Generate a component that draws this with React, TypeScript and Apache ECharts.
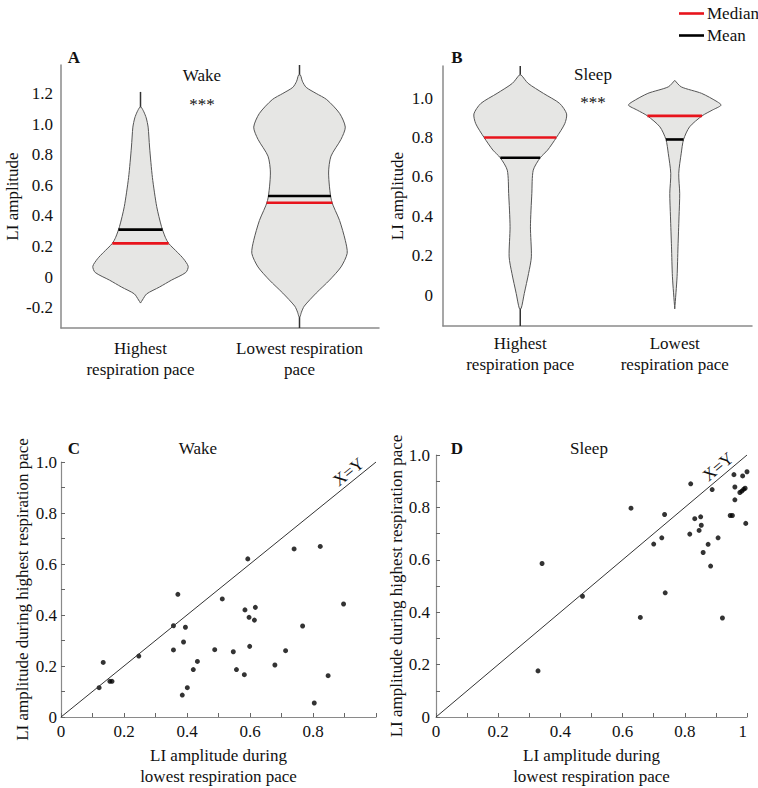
import React, { useEffect, useRef } from "react";
import * as echarts from "echarts";

// ---------- DATA ----------
const violinCategoriesWake = ["Highest\nrespiration pace", "Lowest respiration\npace"];
const violinCategoriesSleep = ["Highest\nrespiration pace", "Lowest\nrespiration pace"];

// violin outlines: [LI amplitude, relative density (0..1)], top to bottom
const wakeHighestProfile: [number, number][] = [
  [1.11, 0.015], [1.08, 0.07], [1.04, 0.12], [0.98, 0.16], [0.85, 0.19], [0.65, 0.25],
  [0.46, 0.34], [0.33, 0.44], [0.26, 0.52], [0.22, 0.59], [0.16, 0.78], [0.12, 0.9],
  [0.07, 1.0], [0.03, 0.95], [-0.02, 0.65], [-0.065, 0.4], [-0.11, 0.13], [-0.15, 0.04], [-0.17, 0],
];
const wakeLowestProfile: [number, number][] = [
  [1.32, 0.02], [1.28, 0.06], [1.24, 0.14], [1.2, 0.35], [1.16, 0.57], [1.07, 0.84],
  [0.98, 0.96], [0.9, 0.87], [0.79, 0.66], [0.68, 0.61], [0.5, 0.67], [0.37, 0.84],
  [0.24, 0.96], [0.155, 1.0], [0.066, 0.87], [-0.02, 0.63], [-0.105, 0.35], [-0.19, 0.1],
  [-0.23, 0.04], [-0.26, 0.01],
];
const sleepHighestProfile: [number, number][] = [
  [1.117, 0.02], [1.075, 0.17], [1.024, 0.5], [0.973, 0.85], [0.92, 1.0], [0.87, 0.96],
  [0.8, 0.78], [0.736, 0.59], [0.697, 0.43], [0.634, 0.28], [0.516, 0.25], [0.347, 0.22],
  [0.194, 0.24], [0.11, 0.18], [0.008, 0.087], [-0.068, 0.02],
];
const sleepLowestProfile: [number, number][] = [
  [1.09, 0], [1.057, 0.14], [1.024, 0.58], [0.981, 0.92], [0.964, 1.0], [0.939, 0.81],
  [0.91, 0.59], [0.854, 0.32], [0.79, 0.19], [0.72, 0.14], [0.618, 0.086], [0.516, 0.107],
  [0.397, 0.092], [0.245, 0.07], [0.093, 0.05], [-0.07, 0],
];
// whisker extents [min, max]
const wakeRanges: [number, number][] = [[-0.17, 1.21], [-0.333, 1.386]];
const sleepRanges: [number, number][] = [[-0.157, 1.163], [-0.07, 1.09]];
const wakeMedians = [0.22, 0.486];
const wakeMeans = [0.31, 0.53];
const sleepMedians = [0.8, 0.91];
const sleepMeans = [0.697, 0.79];

const violinTicksWake = [-0.2, 0, 0.2, 0.4, 0.6, 0.8, 1.0, 1.2];
const violinTicksSleep = [0, 0.2, 0.4, 0.6, 0.8, 1.0];
const scatterMinorTicks = [0, 0.1, 0.2, 0.3, 0.4, 0.5, 0.6, 0.7, 0.8, 0.9, 1.0];
const scatterLabelsC_x = [0, 0.2, 0.4, 0.6, 0.8];
const scatterLabels_y = [0, 0.2, 0.4, 0.6, 0.8, 1.0];
const scatterLabelsD_x = [0, 0.2, 0.4, 0.6, 0.8, 1.0];

// scatter: [lowest pace, highest pace]
const wakePoints: [number, number][] = [
  [0.121, 0.115], [0.134, 0.214], [0.155, 0.14], [0.162, 0.14], [0.247, 0.239],
  [0.357, 0.358], [0.357, 0.263], [0.371, 0.481], [0.385, 0.086], [0.389, 0.294],
  [0.395, 0.352], [0.401, 0.115], [0.42, 0.186], [0.433, 0.218], [0.488, 0.264],
  [0.512, 0.463], [0.547, 0.256], [0.557, 0.186], [0.582, 0.166], [0.584, 0.42],
  [0.593, 0.62], [0.597, 0.391], [0.599, 0.277], [0.614, 0.38], [0.617, 0.43],
  [0.679, 0.204], [0.713, 0.26], [0.74, 0.659], [0.767, 0.357], [0.804, 0.055],
  [0.823, 0.669], [0.848, 0.162], [0.897, 0.443],
];
const sleepPoints: [number, number][] = [
  [0.328, 0.176], [0.341, 0.586], [0.471, 0.461], [0.627, 0.797], [0.657, 0.38],
  [0.7, 0.66], [0.726, 0.684], [0.735, 0.773], [0.737, 0.474], [0.816, 0.698],
  [0.819, 0.89], [0.832, 0.757], [0.846, 0.712], [0.851, 0.764], [0.853, 0.732],
  [0.859, 0.628], [0.875, 0.659], [0.883, 0.576], [0.888, 0.868], [0.907, 0.684],
  [0.921, 0.378], [0.946, 0.769], [0.953, 0.769], [0.958, 0.925], [0.961, 0.878],
  [0.961, 0.829], [0.977, 0.857], [0.983, 0.862], [0.986, 0.92], [0.989, 0.869],
  [0.994, 0.873], [0.996, 0.739], [1.0, 0.936],
];
const identityLine: [number, number][] = [[0, 0], [1, 1]];
const identityLabelC: [number, number] = [0.913, 0.961];
const identityLabelD: [number, number] = [0.907, 0.955];

// ---------- HELPERS ----------
const FONT = "Liberation Serif, Times New Roman, serif";
const TEXT = "#111";
const AXIS = "#8a8a8a";
const VIOLIN_HALF = 0.3; // of category band

function densityAt(profile: [number, number][], v: number) {
  for (let i = 0; i < profile.length - 1; i++) {
    const [a, da] = profile[i];
    const [b, db] = profile[i + 1];
    if (v <= a && v >= b) {
      const t = (a - v) / (a - b);
      return da + (db - da) * t;
    }
  }
  return 0;
}

function violinSeries(profiles: [number, number][][], ranges: [number, number][], idx: number) {
  return {
    type: "custom",
    xAxisIndex: idx,
    yAxisIndex: idx,
    silent: true,
    clip: true,
    data: profiles.map((_, i) => [i, 0]),
    renderItem: (params: any, api: any) => {
      const i = params.dataIndex;
      const prof = profiles[i];
      const band = api.size([1, 0])[0];
      const cx = api.coord([i, 0])[0];
      const right = prof.map(([v, d]) => [cx + d * band * VIOLIN_HALF, api.coord([i, v])[1]]);
      const left = prof.slice().reverse().map(([v, d]) => [cx - d * band * VIOLIN_HALF, api.coord([i, v])[1]]);
      const [lo, hi] = ranges[i];
      const topY = api.coord([i, hi])[1];
      const botY = api.coord([i, lo])[1];
      return {
        type: "group",
        children: [
          {
            type: "line",
            shape: { x1: cx, y1: topY, x2: cx, y2: api.coord([i, prof[0][0]])[1] },
            style: { stroke: "#333", lineWidth: 1.5 },
          },
          {
            type: "line",
            shape: { x1: cx, y1: botY, x2: cx, y2: api.coord([i, prof[prof.length - 1][0]])[1] },
            style: { stroke: "#333", lineWidth: 1.5 },
          },
          {
            type: "polygon",
            shape: { points: right.concat(left), smooth: 0.25 },
            style: { fill: "#e6e6e4", stroke: "#555", lineWidth: 1 },
          },
        ],
      };
    },
  };
}

function statSeries(name: string, color: string, profiles: [number, number][][], values: number[], idx: number) {
  return {
    type: "custom",
    name,
    xAxisIndex: idx,
    yAxisIndex: idx,
    silent: true,
    itemStyle: { color },
    data: values.map((v, i) => [i, v]),
    renderItem: (params: any, api: any) => {
      const i = params.dataIndex;
      const v = values[i];
      const band = api.size([1, 0])[0];
      const [cx, y] = api.coord([i, v]);
      const hw = densityAt(profiles[i], v) * band * VIOLIN_HALF;
      return {
        type: "line",
        shape: { x1: cx - hw, y1: y, x2: cx + hw, y2: y },
        style: { stroke: color, lineWidth: 2.6 },
      };
    },
  };
}

const fmt = (v: number) => (Math.abs(v) < 1e-9 ? "0" : v.toFixed(1));
const fmtD = (v: number) => (Math.abs(v) < 1e-9 ? "0" : Math.abs(v - 1) < 1e-9 ? "1" : v.toFixed(1));

export default function App() {
  const ref = useRef<HTMLDivElement>(null);
  useEffect(() => {
    if (!ref.current) return;
    const chart = echarts.init(ref.current, undefined, { renderer: "svg" });
    const wakeProfiles = [wakeHighestProfile, wakeLowestProfile];
    const sleepProfiles = [sleepHighestProfile, sleepLowestProfile];
    const labelStyle = { fontFamily: FONT, fontSize: 17, color: TEXT };

    const catAxis = (gridIndex: number, data: string[], margin: number) => ({
      type: "category",
      gridIndex,
      data,
      boundaryGap: true,
      axisLine: { onZero: false, lineStyle: { color: AXIS, width: 1.5 } },
      axisTick: { show: false },
      axisLabel: { ...labelStyle, margin, lineHeight: 21, interval: 0 },
    });
    const violinY = (gridIndex: number, min: number, max: number, ticks: number[], margin: number, nameGap: number) => ({
      type: "value",
      gridIndex,
      min,
      max,
      splitLine: { show: false },
      axisLine: { show: true, onZero: false, lineStyle: { color: AXIS, width: 1.5 } },
      axisTick: { show: false },
      axisLabel: { ...labelStyle, margin, customValues: ticks, formatter: fmt, showMinLabel: true, showMaxLabel: true },
      name: "LI amplitude",
      nameLocation: "middle",
      nameRotate: 90,
      nameGap,
      nameTextStyle: labelStyle,
    });
    const scatterX = (gridIndex: number, labels: number[], formatter: any, alignMax: boolean) => ({
      type: "value",
      gridIndex,
      min: 0,
      max: 1,
      splitLine: { show: false },
      axisLine: { onZero: false, lineStyle: { color: AXIS, width: 1.2 } },
      axisTick: { show: true, inside: true, length: 4, customValues: scatterMinorTicks, lineStyle: { color: "#666" } },
      axisLabel: { ...labelStyle, margin: 6, customValues: labels, formatter, showMinLabel: true, showMaxLabel: true, alignMaxLabel: alignMax ? "right" : undefined },
      name: "LI amplitude during\nlowest respiration pace",
      nameLocation: "middle",
      nameGap: 28,
      nameTextStyle: { ...labelStyle, lineHeight: 21 },
    });
    const scatterY = (gridIndex: number, margin: number) => ({
      type: "value",
      gridIndex,
      min: 0,
      max: 1,
      splitLine: { show: false },
      axisLine: { show: true, onZero: false, lineStyle: { color: AXIS, width: 1.2 } },
      axisTick: { show: true, inside: true, length: 4, customValues: scatterMinorTicks, lineStyle: { color: "#666" } },
      axisLabel: { ...labelStyle, margin, customValues: scatterLabels_y, formatter: fmt, showMinLabel: true, showMaxLabel: true },
      name: "LI amplitude during highest respiration pace",
      nameLocation: "middle",
      nameRotate: 90,
      nameGap: 30,
      nameTextStyle: labelStyle,
    });

    const idLabel = (idx: number, pos: [number, number], rotDeg: number) => ({
      type: "custom",
      xAxisIndex: idx,
      yAxisIndex: idx,
      silent: true,
      clip: false,
      data: [pos],
      renderItem: (_params: any, api: any) => {
        const [x, y] = api.coord([api.value(0), api.value(1)]);
        return {
          type: "text",
          x,
          y,
          rotation: (rotDeg * Math.PI) / 180,
          style: { text: "X=Y", font: `17px ${FONT}`, fill: TEXT, align: "center", verticalAlign: "middle" },
        };
      },
    });

    const text = (x: number, y: number, t: string, bold = false) => ({
      type: "text",
      x,
      y,
      style: { text: t, font: `${bold ? "bold " : ""}17px ${FONT}`, fill: TEXT, align: "center", verticalAlign: "middle" },
    });

    chart.setOption({
      animation: false,
      backgroundColor: "#fff",
      textStyle: { fontFamily: FONT },
      legend: {
        orient: "vertical",
        left: 674,
        top: 0,
        data: ["Median", "Mean"],
        icon: "rect",
        itemWidth: 25,
        itemHeight: 2.6,
        itemGap: 5,
        textStyle: { ...labelStyle, padding: [0, 0, 0, -2] },
        selectedMode: false,
      },
      grid: [
        { left: 61, top: 65, width: 318, height: 263 },
        { left: 443, top: 66, width: 309, height: 260 },
        { left: 61, top: 462, width: 315, height: 255 },
        { left: 436, top: 455, width: 311, height: 262 },
      ],
      xAxis: [
        catAxis(0, violinCategoriesWake, 10),
        catAxis(1, violinCategoriesSleep, 7),
        scatterX(2, scatterLabelsC_x, fmt, false),
        scatterX(3, scatterLabelsD_x, fmtD, true),
      ],
      yAxis: [
        violinY(0, -0.333, 1.386, violinTicksWake, 8, 40),
        violinY(1, -0.157, 1.163, violinTicksSleep, 10, 37),
        scatterY(2, 4),
        scatterY(3, 6),
      ],
      series: [
        violinSeries(wakeProfiles, wakeRanges, 0),
        violinSeries(sleepProfiles, sleepRanges, 1),
        statSeries("Median", "#e8141c", wakeProfiles, wakeMedians, 0),
        statSeries("Mean", "#000", wakeProfiles, wakeMeans, 0),
        statSeries("Median", "#e8141c", sleepProfiles, sleepMedians, 1),
        statSeries("Mean", "#000", sleepProfiles, sleepMeans, 1),
        {
          type: "line", xAxisIndex: 2, yAxisIndex: 2, data: identityLine, symbol: "none", silent: true,
          lineStyle: { color: "#333", width: 1 },
        },
        {
          type: "line", xAxisIndex: 3, yAxisIndex: 3, data: identityLine, symbol: "none", silent: true,
          lineStyle: { color: "#333", width: 1 },
        },
        {
          type: "scatter", xAxisIndex: 2, yAxisIndex: 2, data: wakePoints, symbolSize: 5, silent: true,
          itemStyle: { color: "#000" },
        },
        {
          type: "scatter", xAxisIndex: 3, yAxisIndex: 3, data: sleepPoints, symbolSize: 5, silent: true,
          itemStyle: { color: "#000" },
        },
        idLabel(2, identityLabelC, 39),
        idLabel(3, identityLabelD, 40),
      ],
      graphic: [
        text(74, 57, "A", true),
        text(457, 57, "B", true),
        text(74, 448, "C", true),
        text(457, 448, "D", true),
        text(202, 75, "Wake"),
        text(202, 104, "***"),
        text(593, 74, "Sleep"),
        text(593, 102, "***"),
        text(198, 448, "Wake"),
        text(589, 448, "Sleep"),
      ],
    });
    return () => chart.dispose();
  }, []);
  return <div ref={ref} style={{ position: "fixed", left: 0, top: 0, width: 758, height: 788 }} />;
}
